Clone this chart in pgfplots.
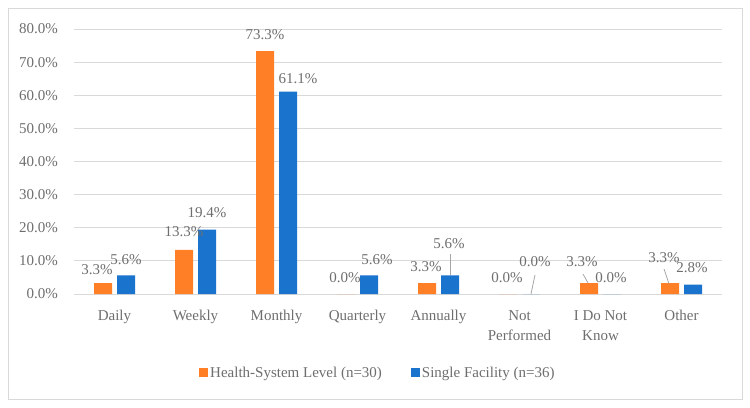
\documentclass[border=0pt]{standalone}
\usepackage{fontspec}
\setmainfont{Liberation Serif}
\usepackage{pgfplots}
\pgfplotsset{compat=1.18}
\definecolor{orng}{HTML}{FF7F27}
\definecolor{blu}{HTML}{1A73CC}
\definecolor{txt}{HTML}{6E6E6E}
\definecolor{grd}{HTML}{D9D9D9}
\definecolor{ldr}{HTML}{A6A6A6}
\newcommand\lf{\fontsize{15bp}{20bp}\selectfont}
\begin{document}
\begin{tikzpicture}
\path[use as bounding box] (0,0) rectangle (750bp,-408bp);
\draw[grd, line width=0.8bp] (8bp,-8bp) rectangle (742bp,-399bp);
\begin{axis}[
  at={(74bp,-294bp)}, anchor=south west,
  scale only axis, width=648bp, height=265bp,
  ybar, bar width=18bp,
  xmin=-0.5, xmax=7.5, ymin=0, ymax=80,
  xtick={0,...,7},
  xticklabels={Daily,Weekly,Monthly,Quarterly,Annually,Not\\Performed,I Do Not\\Know,Other},
  ytick={0,10,...,80},
  yticklabel={\pgfmathprintnumber[fixed,fixed zerofill,precision=1]{\tick}\%},
  /pgf/number format/assume math mode=true,
  ymajorgrids, grid style={grd, line width=0.8bp},
  axis line style={draw=none}, tick style={draw=none},
  yticklabel style={font=\lf, text=txt, inner sep=0pt, xshift=-16bp},
  xticklabel style={font=\lf, text=txt, align=center, inner sep=0pt, anchor=north, yshift=-12bp},
  clip=false,
  legend style={at={(0.469,-0.298)}, anchor=center, draw=none, legend columns=2,
    font=\lf, text=txt, nodes={inner sep=2bp},
    /tikz/every even column/.append style={column sep=27bp}},
]
\addplot[fill=orng, draw=none, bar shift=-11.5bp,
  legend image code/.code={\fill[orng] (0bp,-4.5bp) rectangle (9bp,4.5bp);}]
  coordinates {(0,3.3) (1,13.3) (2,73.3) (3,0) (4,3.3) (5,0) (6,3.3) (7,3.3)};
\addlegendentry{Health-System Level (n=30)}
\addplot[fill=blu, draw=none, bar shift=11.5bp,
  legend image code/.code={\fill[blu] (0bp,-4.5bp) rectangle (9bp,4.5bp);}]
  coordinates {(0,5.6) (1,19.4) (2,61.1) (3,5.6) (4,5.6) (5,0) (6,0) (7,2.8)};
\addlegendentry{Single Facility (n=36)}
\tikzset{lbl/.style={font=\lf, text=txt, inner sep=0pt}}
\node[lbl] at (axis cs:-0.216,7.25) {3.3\%};
\node[lbl] at (axis cs:0.142,10.26) {5.6\%};
\node[lbl] at (axis cs:0.858,18.72) {13.3\%};
\node[lbl] at (axis cs:1.142,24.45) {19.4\%};
\node[lbl] at (axis cs:1.858,78.19) {73.3\%};
\node[lbl] at (axis cs:2.265,64.91) {61.1\%};
\node[lbl] at (axis cs:2.846,4.83) {0.0\%};
\node[lbl] at (axis cs:3.241,10.26) {5.6\%};
\node[lbl] at (axis cs:3.846,8.15) {3.3\%};
\node[lbl] at (axis cs:4.130,15.09) {5.6\%};
\node[lbl] at (axis cs:4.846,4.83) {0.0\%};
\node[lbl] at (axis cs:5.191,9.66) {0.0\%};
\node[lbl] at (axis cs:5.772,9.66) {3.3\%};
\node[lbl] at (axis cs:6.130,4.83) {0.0\%};
\node[lbl] at (axis cs:6.784,10.87) {3.3\%};
\node[lbl] at (axis cs:7.130,7.85) {2.8\%};
\draw[ldr, line width=0.8bp] (axis cs:4.142,12.1) -- (axis cs:4.142,5.6);
\draw[ldr, line width=0.8bp] (axis cs:5.191,5.74) -- (axis cs:5.142,0);
\draw[ldr, line width=0.8bp] (axis cs:5.784,6.04) -- (axis cs:5.846,3.32);
\draw[ldr, line width=0.8bp] (axis cs:6.784,7.55) -- (axis cs:6.846,3.0);
\end{axis}
\end{tikzpicture}
\end{document}
